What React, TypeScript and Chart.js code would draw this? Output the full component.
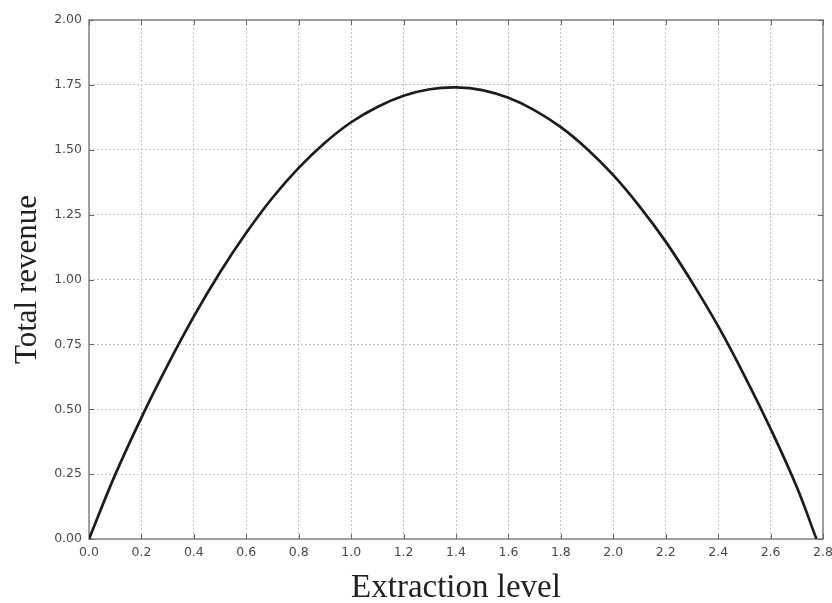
import React, { useEffect, useRef } from "react";
import { Chart, registerables } from "chart.js";

Chart.register(...registerables);

// Extraction level (x) and total revenue (y)
const extraction = [0, 0.1, 0.2, 0.3, 0.4, 0.5, 0.6, 0.7, 0.8, 0.9, 1.0, 1.1, 1.2, 1.3, 1.4, 1.5, 1.6, 1.7, 1.8, 1.9, 2.0, 2.1, 2.2, 2.3, 2.4, 2.5, 2.6, 2.7, 2.775];
const revenue = [0, 0.248, 0.468, 0.67, 0.858, 1.028, 1.18, 1.315, 1.43, 1.527, 1.606, 1.665, 1.708, 1.733, 1.74, 1.73, 1.7, 1.652, 1.587, 1.503, 1.402, 1.282, 1.146, 0.99, 0.82, 0.63, 0.425, 0.2, 0];

const xMin = 0, xMax = 2.8, xStep = 0.2;
const yMin = 0, yMax = 2.0, yStep = 0.25;
const xTitle = "Extraction level";
const yTitle = "Total revenue";

const framePlugin = {
  id: "frame",
  beforeDatasetsDraw(chart: any) {
    const { ctx, chartArea: a, scales } = chart;
    ctx.save();
    ctx.strokeStyle = "#8a8a8a";
    ctx.lineWidth = 1.6;
    ctx.strokeRect(a.left, a.top, a.right - a.left, a.bottom - a.top);
    ctx.lineWidth = 1;
    ctx.strokeStyle = "#666";
    const len = 5;
    scales.x.ticks.forEach((t: any) => {
      const px = Math.round(scales.x.getPixelForValue(t.value)) + 0.5;
      ctx.beginPath();
      ctx.moveTo(px, a.bottom); ctx.lineTo(px, a.bottom - len);
      ctx.moveTo(px, a.top); ctx.lineTo(px, a.top + len);
      ctx.stroke();
    });
    scales.y.ticks.forEach((t: any) => {
      const py = Math.round(scales.y.getPixelForValue(t.value)) + 0.5;
      ctx.beginPath();
      ctx.moveTo(a.left, py); ctx.lineTo(a.left + len, py);
      ctx.moveTo(a.right, py); ctx.lineTo(a.right - len, py);
      ctx.stroke();
    });
    ctx.restore();
  },
};

export default function App() {
  const ref = useRef<HTMLCanvasElement>(null);
  useEffect(() => {
    if (!ref.current) return;
    const points = extraction.map((x, i) => ({ x, y: revenue[i] }));
    const tickFont = { family: "'DejaVu Sans', sans-serif", size: 12.5 };
    const chart = new Chart(ref.current, {
      type: "line",
      data: {
        datasets: [
          {
            data: points,
            borderColor: "#1c1c1c",
            borderWidth: 2.7,
            pointRadius: 0,
            tension: 0.4,
            fill: false,
          },
        ],
      },
      options: {
        animation: false,
        responsive: false,
        maintainAspectRatio: false,
        layout: { padding: { top: 20, right: 9, left: 0, bottom: 0 } },
        plugins: { legend: { display: false }, tooltip: { enabled: false } },
        scales: {
          x: {
            type: "linear",
            min: xMin,
            max: xMax,
            afterFit: (s: any) => { s.height = 64; s.paddingRight = 0; s.paddingLeft = 0; },
            ticks: {
              stepSize: xStep,
              padding: 6,
              color: "#4a4a4a",
              font: tickFont,
              maxRotation: 0,
              callback: (v: any) => Number(v).toFixed(1),
            },
            grid: { color: "#c4c4c4", lineWidth: 1, drawTicks: false },
            border: { display: false, dash: [2, 2] },
            title: {
              display: true, text: xTitle, color: "#222",
              font: { family: "'Liberation Serif', serif", size: 33, lineHeight: 0.8 },
              padding: { top: 0, bottom: 1.5 },
            },
          },
          y: {
            type: "linear",
            min: yMin,
            max: yMax,
            afterFit: (s: any) => { s.width = 89; s.paddingTop = 0; s.paddingBottom = 0; },
            ticks: {
              stepSize: yStep,
              padding: 7,
              color: "#4a4a4a",
              font: tickFont,
              callback: (v: any) => Number(v).toFixed(2),
            },
            grid: { color: "#c4c4c4", lineWidth: 1, drawTicks: false },
            border: { display: false, dash: [2, 2] },
            title: {
              display: true, text: yTitle, color: "#222",
              font: { family: "'Liberation Serif', serif", size: 31, lineHeight: 1.2 },
              padding: { top: 9.5, bottom: 0 },
            },
          },
        },
      },
      plugins: [framePlugin],
    } as any);
    return () => chart.destroy();
  }, []);
  return (
    <div style={{ position: "absolute", left: 0, top: 0, width: 832, height: 603, background: "#fff" }}>
      <canvas ref={ref} width={832} height={603} style={{ display: "block" }} />
    </div>
  );
}
